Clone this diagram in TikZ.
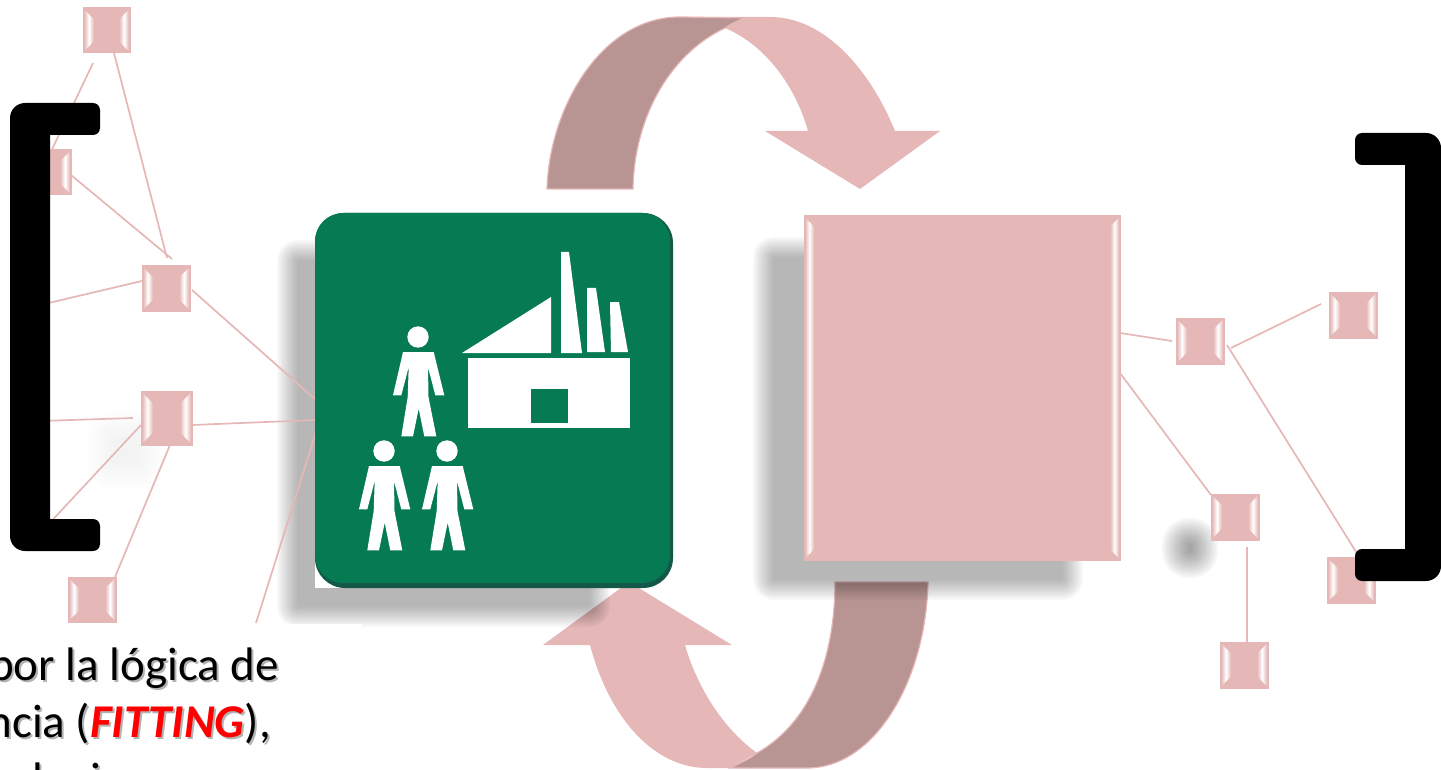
\documentclass[tikz,border=0pt]{standalone}
\usepackage{fontspec}
\setmainfont{Carlito}
\definecolor{rosy}{HTML}{E5B7B7}
\definecolor{rosydark}{HTML}{B89492}
\definecolor{badge}{HTML}{067A52}
\definecolor{badgedark}{HTML}{14584A}
\definecolor{txtshadow}{HTML}{9A9A9A}
\tikzset{
  pinkbox/.style={fill=rosy,draw=rosy,line width=1pt,inner sep=0pt,rectangle},
  link/.style={draw=rosy,line width=1.7pt},
  bent/.style={fill=rosy},
  bentdark/.style={fill=rosydark,draw=rosy,line width=1.2pt},
  bevelshade/.style={left color=rosy,right color=rosy,middle color=white},
  caption/.style={font=\fontsize{47}{56}\selectfont,inner sep=0pt,anchor=base east},
  captionshadow/.style={caption,text=txtshadow,opacity=0.75},
  icon/.style={fill=white}
}
\newcommand{\softshadow}[6]{%
  \pgfmathsetmacro{\stepop}{1-(1-#6)^(1/12)}%
  \foreach \i in {0,...,11}{%
    \pgfmathsetmacro{\ins}{#5*\i/11}%
    \pgfmathsetmacro{\rad}{#5-\ins+1}%
    \fill[black,opacity=\stepop,rounded corners=\rad pt] ({#1+\ins},{#2+\ins}) rectangle ({#3-\ins},{#4-\ins});
  }%
}
\newcommand{\bevelbox}[6]{% name x0 y0 x1 y1 strip
  \node[pinkbox,minimum width={(#4-#2)*1pt},minimum height={(#5-#3)*1pt}] (#1) at ({(#2+#4)/2},{(#3+#5)/2}) {};
  \shade[bevelshade] ({#2+1},{#3+1.5}) -- ({#2+1+#6},{#3+1.5+#6}) -- ({#2+1+#6},{#5-1.5-#6}) -- ({#2+1},{#5-1.5}) -- cycle;
  \shade[bevelshade] ({#4-1},{#3+1.5}) -- ({#4-1-#6},{#3+1.5+#6}) -- ({#4-1-#6},{#5-1.5-#6}) -- ({#4-1},{#5-1.5}) -- cycle;
}
\newcommand{\person}[2]{%
  \begin{scope}[shift={(#1,#2)}]
    \fill[icon] (0,0) circle (10.7);
    \fill[icon] (-15,15) -- (15.7,15) -- (26.3,58.3) -- (17.3,58.3) -- (10,30) -- (10.5,60)
      -- (18.3,99.3) -- (6.3,99.3) -- (0.7,71.7) -- (-5,99.3) -- (-16.7,99.3) -- (-10.3,60)
      -- (-9.3,30) -- (-16.7,58.3) -- (-25,58.3) -- cycle;
  \end{scope}
}
\begin{document}
\begin{tikzpicture}[x=1pt,y=-1pt]
\useasboundingbox (0,0) rectangle (1441,770);
\clip (0,0) rectangle (1441,770);

% curved arrows
\fill[bent] (680,17) -- (770,17) .. controls (825,17) and (870,70) .. (895,131) -- (940,131) -- (860,189) -- (765,131) -- (808,131) .. controls (795,85) and (765,45) .. (725,28) -- cycle;
\path[bentdark] (547,189) .. controls (549,110) and (600,17) .. (680,17) -- (747,18) .. controls (738,20) and (731,24) .. (725,28) .. controls (668,55) and (634,120) .. (633,189) -- cycle;
\fill[bent] (590,645) -- (543,645) -- (629,582) -- (732,645) -- (685,645) .. controls (698,690) and (725,730) .. (757,753) -- (730,768) -- (707,768) .. controls (655,768) and (610,720) .. (590,645) -- cycle;
\path[bentdark] (835,582) -- (928,582) .. controls (926,680) and (875,768) .. (807,768) -- (730,768) .. controls (738,764) and (748,760) .. (757,753) .. controls (815,720) and (835,650) .. (835,582) -- cycle;

% faint smudges
\softshadow{35}{25}{100}{95}{24}{0.025}
\softshadow{85}{300}{160}{352}{22}{0.022}
\softshadow{85}{410}{165}{490}{28}{0.03}
\softshadow{33}{585}{110}{650}{24}{0.025}
\softshadow{1130}{350}{1195}{410}{24}{0.022}
\softshadow{1280}{330}{1340}{380}{20}{0.02}
\softshadow{1280}{585}{1345}{640}{22}{0.02}
\softshadow{1175}{665}{1240}{730}{24}{0.018}
\softshadow{1162}{518}{1218}{578}{26}{0.34}

% large shadows
\softshadow{277}{240}{610}{627}{20}{0.28}
\softshadow{753}{237}{1083}{600}{20}{0.28}

% connector ends
\coordinate (a1) at (93,63);   \coordinate (a2) at (47,160);
\coordinate (b1) at (114,53);  \coordinate (b2) at (167,258);
\coordinate (c1) at (71,175);  \coordinate (c2) at (172,259);
\coordinate (d1) at (142,281); \coordinate (d2) at (40,305);
\coordinate (e1) at (192,290); \coordinate (e2) at (316,400);
\coordinate (f1) at (192,425); \coordinate (f2) at (316,420);
\coordinate (g1) at (133,418); \coordinate (g2) at (40,421);
\coordinate (h1) at (141,425); \coordinate (h2) at (44,529);
\coordinate (i1) at (170,445); \coordinate (i2) at (115,577);
\coordinate (j1) at (316,432); \coordinate (j2) at (256,623);
\coordinate (k1) at (1120,333); \coordinate (k2) at (1172,341);
\coordinate (l1) at (1120,373); \coordinate (l2) at (1211,495);
\coordinate (m1) at (1231,348); \coordinate (m2) at (1321,304);
\coordinate (n1) at (1227,345); \coordinate (n2) at (1358,555);
\coordinate (o1) at (1247,547); \coordinate (o2) at (1247,642);
\foreach \p/\q in {a1/a2,b1/b2,c1/c2,d1/d2,e1/e2,f1/f2,g1/g2,h1/h2,i1/i2,j1/j2,k1/k2,l1/l2,m1/m2,n1/n2,o1/o2}
  \draw[link] (\p) -- (\q);

% small boxes
\bevelbox{nTop}{83}{8}{130}{53}{10}
\bevelbox{nSide}{24}{150}{71}{195}{10}
\bevelbox{nMid}{142}{266}{190}{311}{10}
\bevelbox{nLow}{141}{391}{192}{445}{11}
\bevelbox{nBase}{68}{577}{116}{622}{10}
\bevelbox{nA}{1176}{318}{1224}{364}{10}
\bevelbox{nB}{1329}{292}{1377}{338}{10}
\bevelbox{nC}{1211}{494}{1259}{540}{10}
\bevelbox{nD}{1220}{642}{1268}{688}{10}
\bevelbox{nE}{1327}{557}{1375}{603}{10}

% large box
\bevelbox{bigbox}{804}{216}{1120}{560}{9}

% factory and people badge
\fill[white] (315,213) rectangle (673,588);
\fill[badgedark,rounded corners=30pt] (315,213) rectangle (673,588);
\node[fill=badge,rounded corners=28pt,inner sep=0pt,minimum width=355pt,minimum height=370pt] (badge) at (492.5,398) {};
\fill[icon] (462,353) -- (551,297) -- (551,353) -- cycle;
\fill[icon] (561,252) -- (569,252) -- (582,353) -- (561,353) -- cycle;
\fill[icon] (587,288) -- (596,288) -- (605,352) -- (587,352) -- cycle;
\fill[icon] (610,302) -- (619,302) -- (628,352) -- (611,352) -- cycle;
\fill[icon] (468,358) rectangle (630,428);
\fill[badge] (531,389) rectangle (568,423);
\person{418}{337}
\person{384}{451}
\person{447}{451}

% white panel behind the text
\fill[white] (0,624) rectangle (362,770);

% brackets
\fill[black] (50,135) [rounded corners=7pt] -- (100,135) -- (100,103) [rounded corners=15pt] -- (10,103) -- (10,551) [rounded corners=7pt] -- (100,551) -- (100,519) [sharp corners] -- (50,519) -- cycle;
\fill[black] (1405,165) [rounded corners=7pt] -- (1355,165) -- (1355,133) [rounded corners=15pt] -- (1441,133) -- (1441,581) [rounded corners=7pt] -- (1355,581) -- (1355,549) [sharp corners] -- (1405,549) -- cycle;

% text
\node[captionshadow] (s1) at (281,682) {por la lógica de};
\node[captionshadow] (s2) at (273,739) {ncia (\textbf{\textit{FITTING}}),};
\node[captionshadow] (s3) at (45,797) {l};
\node[captionshadow] (s4) at (103,797) {i};
\node[caption] (t1) at (279,680) {por la lógica de};
\node[caption] (t2) at (271,737) {ncia (\textcolor{red}{\textbf{\textit{FITTING}}}),};
\node[caption] (t3) at (43,795) {l};
\node[caption] (t4) at (101,795) {i};
\end{tikzpicture}
\end{document}
